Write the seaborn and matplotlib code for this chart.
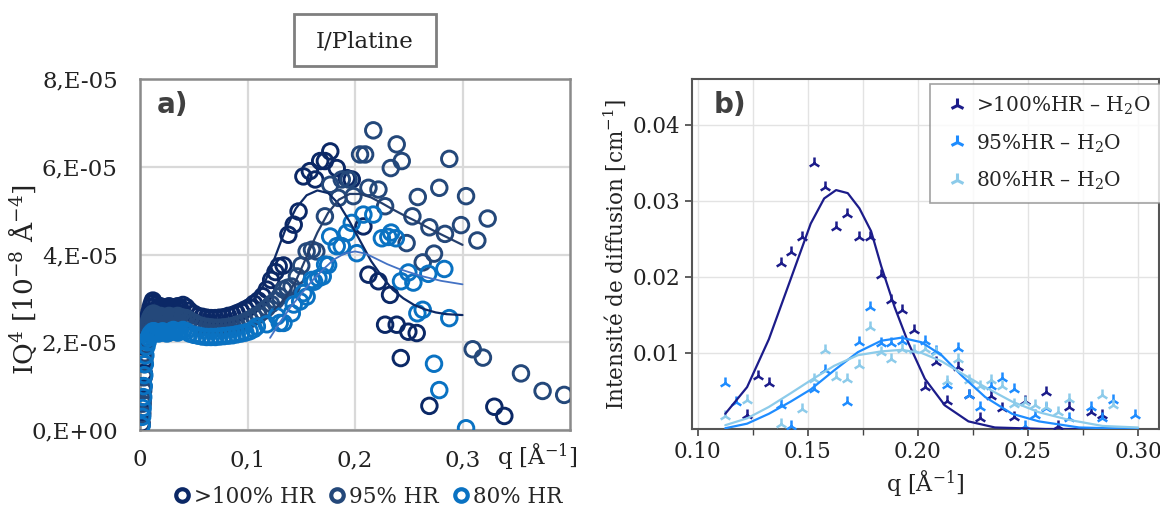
import numpy as np
import pandas as pd
import matplotlib
matplotlib.use("Agg")
import matplotlib.pyplot as plt
import matplotlib.patches as mpatches
from matplotlib.lines import Line2D
import seaborn as sns

sns.set_theme(style="white")
plt.rcParams['font.family'] = ['DejaVu Serif', 'DejaVu Sans']
plt.rcParams['mathtext.fontset'] = 'dejavuserif'

# ---------------- Panel a data (IQ^4 in units of 1e-5) ----------------
q_low = [0.0015, 0.002, 0.0025, 0.003, 0.0035, 0.004, 0.0045, 0.005, 0.006, 0.007, 0.008, 0.009, 0.010, 0.011, 0.012,
         0.013, 0.015, 0.017, 0.019, 0.021, 0.023, 0.025, 0.027, 0.029, 0.031, 0.033, 0.035, 0.037, 0.040, 0.043,
         0.046, 0.050, 0.054, 0.058, 0.062, 0.066, 0.070, 0.074, 0.078, 0.082, 0.086, 0.090, 0.094, 0.098, 0.102, 0.106]
i100_low = [0.15, 0.4, 0.7, 1.0, 1.3, 1.6, 1.9, 2.1, 2.35, 2.5, 2.6, 2.7, 2.8, 2.88, 2.95,
            2.9, 2.85, 2.8, 2.82, 2.8, 2.78, 2.8, 2.82, 2.8, 2.78, 2.8, 2.82, 2.8, 2.85, 2.8,
            2.72, 2.65, 2.6, 2.58, 2.56, 2.55, 2.55, 2.56, 2.57, 2.6, 2.62, 2.66, 2.7, 2.75, 2.8, 2.88]
i95_low = [0.12, 0.35, 0.6, 0.9, 1.2, 1.5, 1.75, 1.95, 2.2, 2.35, 2.45, 2.52, 2.58, 2.62, 2.65,
           2.65, 2.6, 2.58, 2.6, 2.58, 2.56, 2.58, 2.6, 2.58, 2.56, 2.58, 2.6, 2.58, 2.56, 2.55,
           2.5, 2.45, 2.4, 2.37, 2.35, 2.34, 2.33, 2.33, 2.34, 2.35, 2.37, 2.4, 2.43, 2.47, 2.52, 2.58]
i80_low = [0.1, 0.3, 0.5, 0.75, 1.0, 1.25, 1.5, 1.7, 1.9, 2.0, 2.1, 2.15, 2.2, 2.22, 2.25,
           2.25, 2.22, 2.2, 2.22, 2.25, 2.23, 2.2, 2.22, 2.25, 2.28, 2.25, 2.22, 2.25, 2.28, 2.25,
           2.2, 2.17, 2.15, 2.13, 2.12, 2.12, 2.12, 2.13, 2.14, 2.15, 2.16, 2.18, 2.2, 2.22, 2.25, 2.3]

q100_hi = [0.110, 0.114, 0.118, 0.122, 0.126, 0.129, 0.1335, 0.138, 0.143, 0.1475, 0.152, 0.158, 0.163, 0.1676,
           0.172, 0.177, 0.183, 0.1924, 0.197, 0.2078, 0.2125, 0.2218, 0.2326, 0.228, 0.2388, 0.2496, 0.2574,
           0.2426, 0.2692, 0.3296, 0.3389]
i100_hi = [2.95, 3.05, 3.2, 3.42, 3.6, 3.73, 3.75, 4.45, 4.68, 4.98, 5.78, 5.9, 5.71, 6.13,
           6.13, 6.35, 5.97, 5.74, 5.71, 4.64, 3.54, 3.39, 3.08, 2.40, 2.40, 2.24, 2.21,
           1.64, 0.55, 0.53, 0.32]
q95_hi = [0.110, 0.114, 0.118, 0.122, 0.126, 0.130, 0.1335, 0.137, 0.141, 0.146, 0.150, 0.155, 0.160, 0.164,
          0.172, 0.177, 0.1846, 0.1877, 0.194, 0.1985, 0.2047, 0.2094, 0.217, 0.2125, 0.2218, 0.228, 0.2333,
          0.2388, 0.2435, 0.248, 0.2534, 0.2584, 0.2692, 0.2784, 0.2837, 0.2877, 0.2986, 0.3033, 0.3138,
          0.3234, 0.2735, 0.263, 0.3095, 0.319, 0.3544, 0.3745, 0.3946]
i95_hi = [2.62, 2.7, 2.78, 2.87, 2.95, 3.05, 3.2, 3.24, 3.27, 3.5, 3.75, 4.07, 4.11, 4.07,
          4.87, 5.59, 5.29, 5.71, 5.71, 5.33, 6.28, 6.28, 6.83, 5.52, 5.48, 5.10, 5.97,
          6.51, 6.13, 4.26, 4.87, 5.31, 4.62, 5.52, 4.47, 6.18, 4.67, 5.33, 4.32,
          4.82, 4.02, 3.82, 1.84, 1.65, 1.29, 0.89, 0.80]
q80_hi = [0.1087, 0.118, 0.1273, 0.130, 0.1335, 0.1412, 0.143, 0.149, 0.152, 0.155, 0.1598, 0.162, 0.166, 0.170,
          0.1722, 0.175, 0.1769, 0.183, 0.1877, 0.1924, 0.197, 0.2017, 0.2078, 0.217, 0.225, 0.231, 0.2336,
          0.238, 0.2428, 0.2496, 0.2543, 0.2682, 0.2831, 0.258, 0.263, 0.2877, 0.2735, 0.2784, 0.3033]
i80_hi = [2.36, 2.41, 2.59, 2.44, 2.44, 2.66, 2.86, 2.93, 3.12, 3.04, 3.42, 3.38, 3.46, 3.5,
          3.77, 3.76, 4.41, 4.19, 4.19, 4.49, 4.72, 4.03, 4.91, 4.91, 4.37, 4.4, 4.5,
          4.37, 3.39, 3.59, 3.36, 3.56, 3.67, 2.66, 2.74, 2.55, 1.51, 0.91, 0.04]

# fitted curves, panel a
qfit100 = [0.105, 0.115, 0.125, 0.135, 0.145, 0.155, 0.165, 0.175, 0.185, 0.195, 0.205, 0.215, 0.225, 0.235,
           0.245, 0.255, 0.265, 0.275, 0.285, 0.300]
ifit100 = [2.95, 3.3, 3.9, 4.55, 5.05, 5.35, 5.46, 5.4, 5.15, 4.75, 4.3, 3.85, 3.5, 3.2,
           3.0, 2.85, 2.75, 2.68, 2.64, 2.62]
qfit95 = [0.125, 0.135, 0.145, 0.155, 0.165, 0.175, 0.185, 0.195, 0.205, 0.215, 0.225, 0.235, 0.245, 0.255,
          0.265, 0.275, 0.285, 0.300]
ifit95 = [2.75, 3.0, 3.4, 3.95, 4.5, 4.95, 5.25, 5.38, 5.38, 5.3, 5.17, 5.03, 4.9, 4.78,
          4.65, 4.52, 4.4, 4.22]
qfit80 = [0.121, 0.13, 0.14, 0.15, 0.16, 0.17, 0.18, 0.19, 0.20, 0.21, 0.22, 0.23, 0.24, 0.25, 0.26, 0.27,
          0.28, 0.29, 0.30]
ifit80 = [2.1, 2.45, 2.8, 3.1, 3.4, 3.65, 3.88, 4.02, 4.07, 4.02, 3.9, 3.78, 3.68, 3.6, 3.52, 3.46,
          3.4, 3.36, 3.32]

labels_a = [">100% HR", "95% HR", "80% HR"]
yticks_a = [0, 2, 4, 6, 8]
ytick_labels_a = ["0,E+00", "2,E-05", "4,E-05", "6,E-05", "8,E-05"]
xticks_a = [0, 0.1, 0.2, 0.3]
xtick_labels_a = ["0", "0,1", "0,2", "0,3"]

# ---------------- Panel b data ----------------
qb100 = [0.1225, 0.1274, 0.1324, 0.1377, 0.1426, 0.1476, 0.1527, 0.1578, 0.1629, 0.1679, 0.1731, 0.1781,
         0.1831, 0.188, 0.193, 0.1982, 0.2032, 0.2082, 0.2131, 0.2181, 0.2233, 0.2283, 0.2333, 0.2382,
         0.2435, 0.2486, 0.2584, 0.2636, 0.2686, 0.2785, 0.2836]
ib100 = [0.0018, 0.0070, 0.0060, 0.0218, 0.0233, 0.0252, 0.0350, 0.0318, 0.0265, 0.0283, 0.0252, 0.0253,
         0.0203, 0.0169, 0.0157, 0.0130, 0.0055, 0.0088, 0.0037, 0.0082, 0.0045, 0.0015, 0.0044, 0.0028,
         0.0016, 0.0037, 0.0049, 0.0004, 0.0029, 0.0023, 0.0019]
qb95 = [0.1126, 0.1177, 0.1377, 0.1426, 0.1527, 0.1578, 0.1679, 0.1731, 0.1781, 0.1831, 0.188, 0.193,
        0.2032, 0.2082, 0.2131, 0.2181, 0.2233, 0.2283, 0.2333, 0.2382, 0.2435, 0.2486, 0.2534, 0.2584,
        0.2686, 0.2785, 0.2836, 0.2884, 0.2988]
ib95 = [0.0060, 0.0036, 0.0031, 0.0004, 0.0053, 0.0078, 0.0036, 0.0115, 0.0160, 0.0113, 0.0113, 0.0116,
        0.0116, 0.0103, 0.0058, 0.0107, 0.0045, 0.0029, 0.0057, 0.0067, 0.0052, 0.0004, 0.0019, 0.0028,
        0.0014, 0.0029, 0.0014, 0.0038, 0.0019]
qb80 = [0.1126, 0.1225, 0.1377, 0.1476, 0.1527, 0.1578, 0.1629, 0.1679, 0.1731, 0.1781, 0.1831, 0.188,
        0.193, 0.1982, 0.2032, 0.2082, 0.2131, 0.2181, 0.2233, 0.2283, 0.2333, 0.2382, 0.2435, 0.2486,
        0.2534, 0.2584, 0.2636, 0.2686, 0.2836, 0.2884]
ib80 = [0.0017, 0.0038, 0.0006, 0.0026, 0.0066, 0.0104, 0.0068, 0.0066, 0.0084, 0.0134, 0.0101, 0.0092,
        0.0105, 0.0104, 0.0105, 0.0101, 0.0063, 0.0092, 0.0064, 0.0057, 0.0064, 0.0057, 0.0033, 0.0036,
        0.0031, 0.0029, 0.0022, 0.0039, 0.0045, 0.0031]

qbf100 = [0.1126, 0.1225, 0.1324, 0.1423, 0.1514, 0.1575, 0.1629, 0.1682, 0.1735, 0.1788, 0.1834, 0.1895,
          0.1956, 0.2032, 0.2123, 0.223, 0.235, 0.258, 0.30]
ibf100 = [0.0020, 0.0055, 0.0118, 0.0197, 0.0270, 0.0303, 0.0314, 0.0310, 0.0290, 0.0260, 0.0214, 0.0160,
          0.0114, 0.0066, 0.0031, 0.0010, 0.0002, 0.0, 0.0]
qbf95 = [0.1126, 0.1225, 0.1324, 0.1423, 0.1514, 0.162, 0.1728, 0.1834, 0.1925, 0.2017, 0.2108, 0.22,
         0.2306, 0.2428, 0.255, 0.2732, 0.30]
ibf95 = [0.0001, 0.0007, 0.0020, 0.0036, 0.0052, 0.0077, 0.0101, 0.0116, 0.0120, 0.0114, 0.0097, 0.0070,
         0.0042, 0.0020, 0.0010, 0.0002, 0.0]
qbf80 = [0.1126, 0.1225, 0.1324, 0.1423, 0.1514, 0.162, 0.1728, 0.1834, 0.1925, 0.2017, 0.2108, 0.22,
         0.2306, 0.2428, 0.255, 0.2686, 0.2839, 0.30]
ibf80 = [0.0005, 0.0014, 0.0029, 0.0047, 0.0064, 0.0083, 0.0097, 0.0102, 0.0104, 0.0100, 0.0089, 0.0073,
         0.0055, 0.0036, 0.0022, 0.0012, 0.0004, 0.0002]

labels_b = [">100%HR – H$_2$O", "95%HR – H$_2$O", "80%HR – H$_2$O"]

# ---------------- styling ----------------
cols_a = ["#0b2866", "#24487a", "#0a72c2"]
line_cols_a = ["#0d2a66", "#253f6c", "#4472c4"]
cols_b = ["#1c1c8a", "#1e8cff", "#8ccbea"]

W, H = 1160, 515
fig = plt.figure(figsize=(W / 100, H / 100), dpi=100)

def fx(px):
    return px / W

def fy(py):
    return 1 - py / H

ax_a = fig.add_axes([fx(140), fy(430), fx(570) - fx(140), fy(79) - fy(430)])
ax_b = fig.add_axes([fx(692), fy(429), fx(1159) - fx(692), fy(79) - fy(429)])

# ---- panel a
series_a = [(q_low + q100_hi, i100_low + i100_hi),
            (q_low + q95_hi, i95_low + i95_hi),
            (q_low + q80_hi, i80_low + i80_hi)]
for (qq, ii), c in zip(series_a, cols_a):
    sns.scatterplot(x=qq, y=ii, ax=ax_a, marker="o", s=125, color=c,
                    facecolor="none", edgecolor=c, linewidth=2.1, zorder=3)

fits_a = [(qfit100, ifit100, 1.6), (qfit95, ifit95, 1.6), (qfit80, ifit80, 1.3)]
for (qq, ii, lw), c in zip(fits_a, line_cols_a):
    sns.lineplot(x=qq, y=ii, ax=ax_a, color=c, lw=lw, estimator=None, zorder=4)

ax_a.set_xlim(0, 0.4)
ax_a.set_ylim(0, 8)
ax_a.set_xticks(xticks_a)
ax_a.set_xticklabels(xtick_labels_a)
ax_a.set_yticks(yticks_a)
ax_a.set_yticklabels(ytick_labels_a)
ax_a.tick_params(axis="both", length=0, labelsize=16.5, labelcolor="#222222")
ax_a.tick_params(axis="x", pad=14)
ax_a.tick_params(axis="y", pad=16)
ax_a.grid(True, color="#d9d9d9", lw=1.6)
ax_a.set_axisbelow(True)
for sp in ax_a.spines.values():
    sp.set_color("#8a8a8a")
    sp.set_linewidth(1.8)
ax_a.set_xlabel("")
ax_a.set_ylabel("")
ax_a.text(0.075, 0.925, "a)", transform=ax_a.transAxes, ha="center", va="center",
          fontsize=20, fontweight="bold", color="#404040", family="DejaVu Sans")

fig.text(fx(537), fy(457), "q [Å$^{-1}$]", ha="center", va="center", fontsize=16.5, color="#222222")
fig.text(fx(23), fy(280), "IQ$^4$ [10$^{-8}$ Å$^{-4}$]", ha="center", va="center",
         rotation=90, fontsize=19, color="#222222")

# title box
fig.patches.append(mpatches.Rectangle((fx(294), fy(66)), fx(436) - fx(294), fy(14) - fy(66),
                                      transform=fig.transFigure, facecolor="white",
                                      edgecolor="#7f7f7f", lw=2))
fig.text(fx(365), fy(41), "I/Platine", ha="center", va="center", fontsize=16.5, color="#222222")

handles_a = [Line2D([], [], ls="none", marker="o", ms=9, mfc="none", mec=c, mew=3) for c in cols_a]
fig.legend(handles_a, labels_a, loc="center", bbox_to_anchor=(fx(369), fy(497)), ncol=3,
           frameon=False, fontsize=15.5, handlelength=0.6, handletextpad=0.25,
           columnspacing=0.75, borderpad=0.1)

# ---- panel b
fits_b = [(qbf100, ibf100), (qbf95, ibf95), (qbf80, ibf80)]
pts_b = [(qb100, ib100), (qb95, ib95), (qb80, ib80)]
for (qq, ii), c in zip(pts_b, cols_b):
    sns.scatterplot(x=qq, y=ii, ax=ax_b, marker="2", s=75, color=c, linewidth=1.8, zorder=3)
for (qq, ii), c in zip(fits_b, cols_b):
    sns.lineplot(x=qq, y=ii, ax=ax_b, color=c, lw=1.6, estimator=None, zorder=4)

ax_b.set_xlim(0.0975, 0.3095)
ax_b.set_ylim(0, 0.046)
ax_b.set_xticks([0.10, 0.15, 0.20, 0.25, 0.30])
ax_b.set_xticklabels(["0.10", "0.15", "0.20", "0.25", "0.30"])
ax_b.set_xticks([0.125, 0.175, 0.225, 0.275], minor=True)
ax_b.set_yticks([0.01, 0.02, 0.03, 0.04])
ax_b.set_yticklabels(["0.01", "0.02", "0.03", "0.04"])
ax_b.tick_params(axis="both", which="major", direction="out", length=5, width=1.2, color="#444444",
                 labelsize=15.5, labelcolor="#222222", bottom=True, left=True)
ax_b.tick_params(axis="x", which="minor", direction="out", length=4, width=1.0, color="#444444", bottom=True)
ax_b.grid(True, which="both", color="#e3e3e3", lw=1.0)
ax_b.set_axisbelow(True)
for sp in ax_b.spines.values():
    sp.set_color("#555555")
    sp.set_linewidth(1.5)
ax_b.set_xlabel("q [Å$^{-1}$]", fontsize=16, color="#222222", labelpad=4)
ax_b.set_ylabel("Intensité de diffusion [cm$^{-1}$]", fontsize=15.5, color="#222222", labelpad=3)
ax_b.text(0.082, 0.926, "b)", transform=ax_b.transAxes, ha="center", va="center",
          fontsize=20, fontweight="bold", color="#404040", family="DejaVu Sans")

handles_b = [Line2D([], [], ls="none", marker="2", ms=10, mew=2.2, color=c) for c in cols_b]
leg = ax_b.legend(handles_b, labels_b, loc="upper left",
                  bbox_to_anchor=((930 - 692) / 467, (429 - 84) / 350), borderaxespad=0,
                  fontsize=14.5, frameon=True, fancybox=False, edgecolor="#8a8a8a",
                  handlelength=1.6, handletextpad=0.15, borderpad=0.55, labelspacing=0.75)
leg.get_frame().set_linewidth(1.2)

fig.savefig("out.png", dpi=100, facecolor="white")
